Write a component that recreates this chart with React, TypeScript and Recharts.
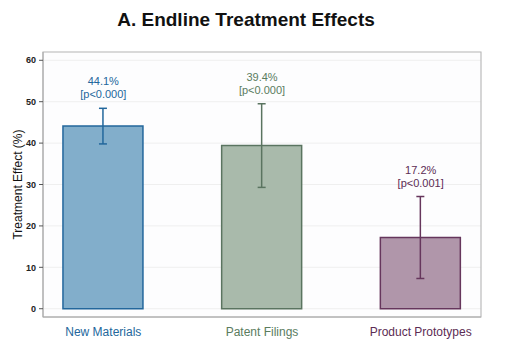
import React from "react";
import {
  ComposedChart,
  Bar,
  Line,
  XAxis,
  YAxis,
  CartesianGrid,
  ErrorBar,
  LabelList,
  ReferenceArea,
} from "recharts";

// values
const categories = ["New Materials", "Patent Filings", "Product Prototypes"];
const effects = [44.1, 39.4, 17.2];
const errors = [4.3, 10.1, 9.9];
const pLabels = ["[p<0.000]", "[p<0.000]", "[p<0.001]"];
const yTicks = [0, 10, 20, 30, 40, 50, 60];

const STYLE = [
  { fill: "#82aecb", stroke: "#23679c", text: "#23679c" },
  { fill: "#a9baab", stroke: "#5a7460", text: "#5a7c5e" },
  { fill: "#b096aa", stroke: "#66365c", text: "#5c2c54" },
];

const FONT = "'Liberation Sans', Arial, sans-serif";

// one key per category so each bar gets its own error bar colour
const rows = categories.map((name, i) => {
  const row: Record<string, number | string | null> = {
    x: i,
    name,
    hi: effects[i] + errors[i],
  };
  categories.forEach((_, j) => {
    row[`v${j}`] = i === j ? effects[i] : null;
    row[`e${j}`] = i === j ? errors[i] : null;
  });
  return row;
});

function XTick({ x, y, payload }: { x?: number; y?: number; payload?: { value: number } }) {
  const i = payload ? payload.value : 0;
  return (
    <text x={x} y={(y ?? 0) + 11} textAnchor="middle" fontSize={12} fill={STYLE[i].text} fontFamily={FONT}>
      {categories[i]}
    </text>
  );
}

function TopLabel(props: { x?: number; y?: number; index?: number }) {
  const { x = 0, y = 0, index = 0 } = props;
  const c = STYLE[index].text;
  return (
    <text x={x} textAnchor="middle" fontSize={11} fill={c} fontFamily={FONT}>
      <tspan x={x} y={y - 23}>{effects[index].toFixed(1)}%</tspan>
      <tspan x={x} y={y - 10}>{pLabels[index]}</tspan>
    </text>
  );
}

export default function App() {
  return (
    <div style={{ position: "fixed", left: 0, top: 0, width: 520, height: 354, background: "#fff" }}>
      <div
        style={{
          position: "absolute",
          top: 9,
          left: 0,
          width: 492,
          textAlign: "center",
          fontFamily: FONT,
          fontWeight: "bold",
          fontSize: 19,
          lineHeight: "22px",
          color: "#111",
        }}
      >
        A. Endline Treatment Effects
      </div>
      <ComposedChart
        width={520}
        height={354}
        data={rows}
        margin={{ top: 52, right: 39, bottom: 0, left: 0 }}
      >
        <CartesianGrid horizontal vertical={false} stroke="#efefef" fill="#fdfdfe" />
        <XAxis
          dataKey="x"
          type="number"
          domain={[-0.38, 2.38]}
          ticks={[0, 1, 2]}
          allowDataOverflow
          tickLine={false}
          axisLine={{ stroke: "#aaaaaa" }}
          tick={<XTick />}
          height={37}
        />
        <YAxis
          type="number"
          domain={[-2, 62]}
          ticks={yTicks}
          allowDataOverflow
          width={43}
          tickSize={4}
          tickMargin={3}
          axisLine={{ stroke: "#aaaaaa" }}
          tickLine={{ stroke: "#555" }}
          tick={{ fontSize: 9, fontWeight: "bold", fill: "#222", fontFamily: FONT }}
          label={{
            value: "Treatment Effect (%)",
            angle: -90,
            position: "insideLeft",
            offset: 18,
            style: { textAnchor: "middle", fontSize: 12, fill: "#111", fontFamily: FONT },
          }}
        />
        <ReferenceArea x1={-0.38} x2={2.38} y1={-2} y2={62} fill="none" stroke="#bbbbbb" strokeWidth={1.2} />
        {categories.map((_, j) => (
          <Bar
            key={j}
            dataKey={`v${j}`}
            stackId="a"
            barSize={80}
            fill={STYLE[j].fill}
            stroke={STYLE[j].stroke}
            strokeWidth={1.5}
            isAnimationActive={false}
          >
            <ErrorBar dataKey={`e${j}`} width={4} stroke={STYLE[j].stroke} strokeWidth={1.5} direction="y" />
          </Bar>
        ))}
        <Line
          dataKey="hi"
          stroke="none"
          dot={false}
          activeDot={false}
          isAnimationActive={false}
        >
          <LabelList dataKey="hi" content={<TopLabel />} />
        </Line>
      </ComposedChart>
    </div>
  );
}
